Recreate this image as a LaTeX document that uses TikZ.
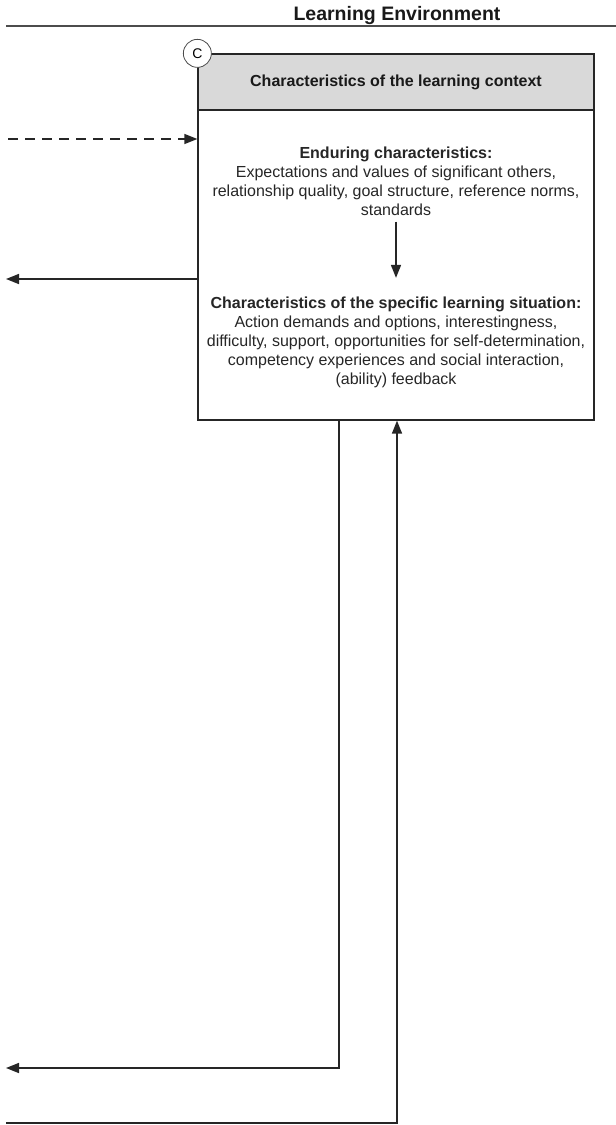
\documentclass[tikz,border=0pt]{standalone}
\usepackage{fontspec}
\setmainfont{Liberation Sans}
\usetikzlibrary{arrows.meta}
\tikzset{
  box/.style={draw=black!85, line width=1.3pt, minimum width=396pt, minimum height=366pt, inner sep=0pt},
  header/.style={draw=black!85, line width=1.3pt, fill=black!15, minimum width=396pt, minimum height=56pt, inner sep=0pt, font=\bfseries\fontsize{16}{19}\selectfont, text=black!90},
  body/.style={align=center, inner sep=0pt, font=\fontsize{16}{19}\selectfont, text=black!85},
  tag/.style={circle, draw=black!70, line width=0.8pt, fill=white, minimum size=28pt, inner sep=0pt, font=\fontsize{14}{14}\selectfont},
  link/.style={draw=black!85, line width=1.6pt, -{Triangle[length=13pt,width=10pt]}},
  dlink/.style={link, line width=1.3pt, dash pattern=on 10pt off 7pt},
}
\begin{document}
\begin{tikzpicture}[x=1pt, y=-1pt]
  \useasboundingbox (0,0) rectangle (616,1125);
  % heading
  \node[anchor=base, font=\bfseries\fontsize{19.5}{22}\selectfont, text=black!90] (title) at (397,20) {Learning Environment};
  \coordinate (ruleL) at (6,26);
  \coordinate (ruleR) at (616,26);
  \draw[line width=1.2pt, black!70] (ruleL) -- (ruleR);
  % the box
  \node[box] (ctx) at (396,237) {};
  \node[header, anchor=north] (hdr) at (ctx.north) {Characteristics of the learning context};
  \node[tag] (c) at (ctx.north west) {C};
  \node[body] (endur) at (396,181) {\textbf{Enduring characteristics:}\\
    Expectations and values of significant others,\\
    relationship quality, goal structure, reference norms,\\
    standards};
  \node[body] (spec) at (396,342.5) {\textbf{Characteristics of the specific learning situation:}\\
    Action demands and options, interestingness,\\
    difficulty, support, opportunities for self-determination,\\
    competency experiences and social interaction,\\
    (ability) feedback};
  \draw[link, shorten <=6pt, shorten >=19pt] (endur) -- (spec);
  % connectors to the left
  \coordinate (dashin) at (8,139);
  \coordinate (out1) at (6,279);
  \coordinate (down) at (339,1068);
  \coordinate (out2) at (6,1068);
  \coordinate (in2) at (6,1123);
  \coordinate (up) at (397,1123);
  \draw[dlink] (dashin) -- (dashin -| ctx.west);
  \draw[link] (out1 -| ctx.west) -- (out1);
  \draw[link] (down |- ctx.south) -- (down) -- (out2);
  \draw[link] (in2) -- (up) -- (up |- ctx.south);
\end{tikzpicture}
\end{document}
